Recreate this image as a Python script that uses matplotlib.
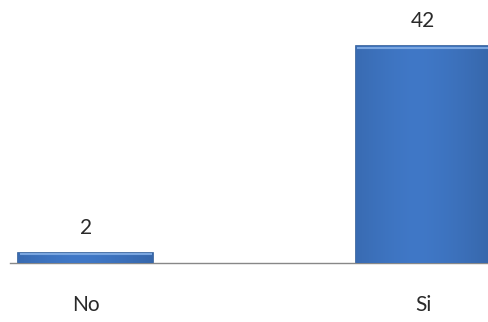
import matplotlib.pyplot as plt
import numpy as np

categories = ["No", "Si"]
values = [2, 42]

fig = plt.figure(figsize=(4.89, 3.22), dpi=100)
ax = fig.add_axes([10 / 489, 59 / 322, 479 / 489, 263 / 322])

x = np.arange(len(categories))
bars = ax.bar(x, values, width=0.4, color="#3f78c6", edgecolor="#2d5b98", linewidth=1.2, zorder=2)

# horizontal shading so the bars look a bit like the original bevelled ones
grad = np.linspace(0, 1, 256)
shade = 1 - 0.35 * np.abs(grad - 0.45) ** 1.5
img = np.dstack([0.25 * shade, 0.47 * shade, 0.78 * shade])
for b in bars:
    x0, y0, w, h = b.get_x(), b.get_y(), b.get_width(), b.get_height()
    im = ax.imshow(img, extent=[x0, x0 + w, y0, y0 + h], aspect="auto", zorder=3)
    im.set_clip_path(b)
    ax.plot([x0 + w * 0.02, x0 + w * 0.98], [h - 0.35, h - 0.35], color="#7aa6e0", lw=1.5, zorder=4)

for xi, v in zip(x, values):
    ax.text(xi, v + 4.8, str(v), ha="center", va="center", fontsize=15, family="Lato", color="#2a2a2a")

ax.set_xlim(-0.225, 1.196)
ax.set_ylim(0, 50.9)
ax.set_xticks(x)
ax.set_xticklabels(categories, fontsize=15, family="Lato", color="#2a2a2a")
ax.tick_params(axis="x", length=0, pad=23)
ax.set_yticks([])
for s in ["top", "right", "left"]:
    ax.spines[s].set_visible(False)
ax.spines["bottom"].set_color("#888888")
ax.spines["bottom"].set_linewidth(1)

fig.savefig("out.png", dpi=100)
